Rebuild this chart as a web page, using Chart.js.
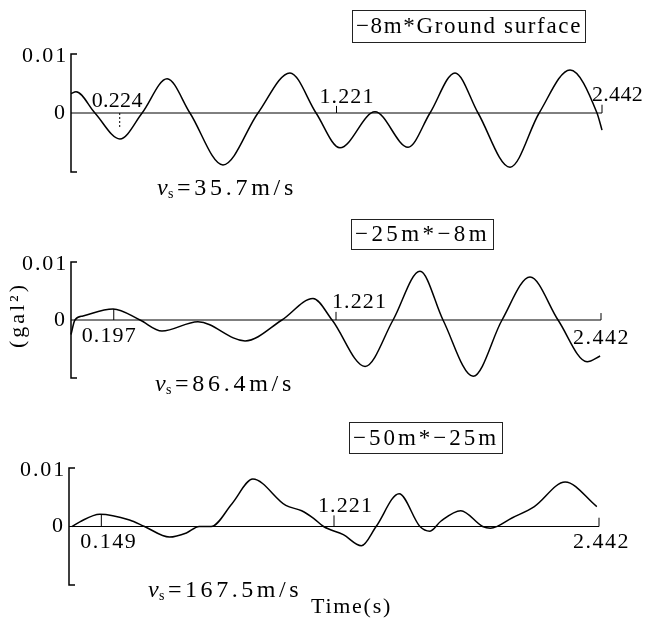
<!DOCTYPE html>
<html>
<head>
<meta charset="utf-8">
<script src="https://cdn.jsdelivr.net/npm/chart.js@4.4.1/dist/chart.umd.min.js"></script>
<style>
  body { margin: 0; background: #fff; }
  #wrap { position: relative; width: 645px; height: 620px; }
  #wrap canvas { position: absolute; left: 0; top: 0; }
</style>
</head>
<body>
<div id="wrap">
  <canvas id="p1" width="645" height="620"></canvas>
  <canvas id="p2" width="645" height="620"></canvas>
  <canvas id="p3" width="645" height="620"></canvas>
</div>
<script>
// lag time (s) and cross-correlation (gal^2)
const t1 = [0, 0.023, 0.110, 0.225, 0.327, 0.442, 0.547, 0.699, 0.860, 1.007, 1.127, 1.237, 1.398, 1.550, 1.651, 1.766, 1.872, 2.019, 2.153, 2.295, 2.419, 2.442];
const v1 = [0.0033, 0.0036, 0, -0.0044, 0, 0.0058, 0, -0.0088, 0, 0.0068, 0, -0.0059, 0.0002, -0.0058, 0, 0.0068, 0, -0.0092, 0, 0.0073, 0, -0.0029];

const t2 = [0, 0.018, 0.055, 0.194, 0.318, 0.419, 0.585, 0.802, 0.972, 1.115, 1.203, 1.355, 1.484, 1.608, 1.714, 1.853, 1.986, 2.115, 2.244, 2.378, 2.438];
const v2 = [-0.0025, 0, 0.0007, 0.0019, 0, -0.0019, -0.0003, -0.0036, 0, 0.0037, 0, -0.0080, 0, 0.0084, 0, -0.0097, 0, 0.0074, 0, -0.0072, -0.0062];

const t3 = [0.014, 0.050, 0.142, 0.279, 0.348, 0.463, 0.541, 0.600, 0.655, 0.751, 0.847, 0.999, 1.072, 1.127, 1.173, 1.264, 1.347, 1.415, 1.521, 1.617, 1.663, 1.713, 1.805, 1.906, 1.942, 2.043, 2.144, 2.286, 2.432];
const v3 = [0, 0.0008, 0.0021, 0.0011, 0, -0.0018, -0.0011, 0, 0, 0.0039, 0.0081, 0.0036, 0.0027, 0.0014, 0, -0.0014, -0.0033, 0, 0.0056, 0, -0.0008, 0.0009, 0.0027, 0, -0.0003, 0.0015, 0.0034, 0.0076, 0.0034];

// marked lag times and where their little tick lines end (gal^2)
const marks1 = [0.224, 1.221, 2.442];
const markEnds1 = [-0.0024, 0.0012, 0.0014];
const marks2 = [0.197, 1.221, 2.442];
const markEnds2 = [0.0019, 0.0014, 0.0012];
const marks3 = [0.149, 1.221, 2.442];
const markEnds3 = [0.0021, 0.0019, 0.0015];

const pairLabels = ['−8m*Ground surface', '−25m*−8m', '−50m*−25m'];
const vsLabels = ['=35.7m/s', '=86.4m/s', '=167.5m/s'];
const yTickLabels = ['0.01', '0'];

const SERIF = '"Liberation Serif", "DejaVu Serif", serif';
const INK = '#000';

function fitText(ctx, str, x, y, w, font) {
  ctx.font = font;
  ctx.letterSpacing = '0px';
  const m = ctx.measureText(str).width;
  const ls = w ? Math.max(0, (w - m) / str.length) : 0;
  ctx.letterSpacing = ls + 'px';
  ctx.textAlign = 'left';
  ctx.textBaseline = 'middle';
  ctx.fillText(str, x, y);
  ctx.letterSpacing = '0px';
}

const panels = [
  { id: 'p1', t: t1, v: v1, marks: marks1, ends: markEnds1, area: { left: 71, right: 602, top: 54, bottom: 172 },
    box: { x: 352, y: 10, w: 233, h: 32 }, vs: { x: 157, y: 189, w: 140 },
    markLabels: [{ dx: -28, dy: -12, w: 51, dash: true }, { dx: -17, dy: -16, w: 55 }, { dx: -10, dy: -18, w: 51 }] },
  { id: 'p2', t: t2, v: v2, marks: marks2, ends: markEnds2, area: { left: 71, right: 601, top: 262, bottom: 378 },
    box: { x: 351, y: 219, w: 142, h: 30 }, vs: { x: 155, y: 385, w: 140 },
    markLabels: [{ dx: -32, dy: 16, w: 55 }, { dx: -4, dy: -18, w: 55 }, { dx: -28, dy: 18, w: 57 }] },
  { id: 'p3', t: t3, v: v3, marks: marks3, ends: markEnds3, area: { left: 69, right: 599, top: 468, bottom: 585 },
    box: { x: 349, y: 422, w: 153, h: 31 }, vs: { x: 148, y: 591, w: 154 },
    markLabels: [{ dx: -21, dy: 16, w: 57 }, { dx: -16, dy: -20, w: 55 }, { dx: -26, dy: 16, w: 57 }] }
];

panels.forEach((p, i) => {
  const frame = {
    id: 'frame' + i,
    beforeDatasetsDraw(chart) {
      const { ctx, chartArea: a, scales: { x, y } } = chart;
      const y0 = y.getPixelForValue(0);
      ctx.save();
      ctx.strokeStyle = INK;
      // y axis with small end hooks
      ctx.lineWidth = 1.5;
      ctx.beginPath();
      ctx.moveTo(a.left + 6, a.top);
      ctx.lineTo(a.left, a.top);
      ctx.lineTo(a.left, a.bottom);
      ctx.lineTo(a.left + 6, a.bottom);
      ctx.stroke();
      // zero line
      ctx.lineWidth = 1;
      ctx.beginPath();
      ctx.moveTo(a.left, y0);
      ctx.lineTo(a.right, y0);
      ctx.stroke();
      // marked times
      p.marks.forEach((m, k) => {
        const px = x.getPixelForValue(m);
        ctx.setLineDash(p.markLabels[k].dash ? [2, 2] : []);
        ctx.beginPath();
        ctx.moveTo(px, y0);
        ctx.lineTo(px, y.getPixelForValue(p.ends[k]));
        ctx.stroke();
      });
      ctx.restore();
    },
    afterDatasetsDraw(chart) {
      const { ctx, chartArea: a, scales: { x, y } } = chart;
      const y0 = y.getPixelForValue(0);
      ctx.save();
      ctx.fillStyle = INK;
      // y tick labels
      fitText(ctx, yTickLabels[0], a.left - 49, y.getPixelForValue(0.01) + 2, 46, '22px ' + SERIF);
      fitText(ctx, yTickLabels[1], a.left - 17, y0, 0, '22px ' + SERIF);
      // mark labels
      p.marks.forEach((m, k) => {
        const L = p.markLabels[k];
        fitText(ctx, m.toFixed(3), x.getPixelForValue(m) + L.dx, y0 + L.dy, L.w, '22px ' + SERIF);
      });
      // pair label box
      const b = p.box;
      ctx.strokeStyle = '#222';
      ctx.lineWidth = 1;
      ctx.strokeRect(b.x + 0.5, b.y + 0.5, b.w, b.h);
      fitText(ctx, pairLabels[i], b.x + 4, b.y + b.h / 2 + 1, b.w - 7, '23px ' + SERIF);
      // shear wave velocity
      const s = p.vs;
      ctx.font = 'italic 24px ' + SERIF;
      ctx.textAlign = 'left';
      ctx.textBaseline = 'middle';
      ctx.fillText('v', s.x, s.y);
      ctx.font = '14px ' + SERIF;
      ctx.fillText('s', s.x + 11, s.y + 5);
      fitText(ctx, vsLabels[i], s.x + 20, s.y, s.w - 20, '24px ' + SERIF);
      if (i === 1) {
        ctx.save();
        ctx.translate(18, 315);
        ctx.rotate(-Math.PI / 2);
        fitText(ctx, '(gal²)', -33, 0, 66, '22px ' + SERIF);
        ctx.restore();
      }
      if (i === 2) {
        fitText(ctx, 'Time(s)', 311, 607, 81, '22px ' + SERIF);
      }
      ctx.restore();
    }
  };

  new Chart(document.getElementById(p.id), {
    type: 'line',
    data: {
      datasets: [{
        data: p.t.map((t, k) => ({ x: t, y: p.v[k] })),
        borderColor: INK,
        borderWidth: 1.5,
        pointRadius: 0,
        cubicInterpolationMode: 'monotone',
        fill: false,
        clip: false
      }]
    },
    options: {
      responsive: false,
      animation: false,
      devicePixelRatio: 1,
      layout: { padding: { left: p.area.left, right: 645 - p.area.right, top: p.area.top, bottom: 620 - p.area.bottom } },
      scales: {
        x: { type: 'linear', min: 0, max: 2.442, display: false },
        y: { type: 'linear', min: -0.01, max: 0.01, display: false }
      },
      plugins: { legend: { display: false }, tooltip: { enabled: false } }
    },
    plugins: [frame]
  });
});
</script>
</body>
</html>
